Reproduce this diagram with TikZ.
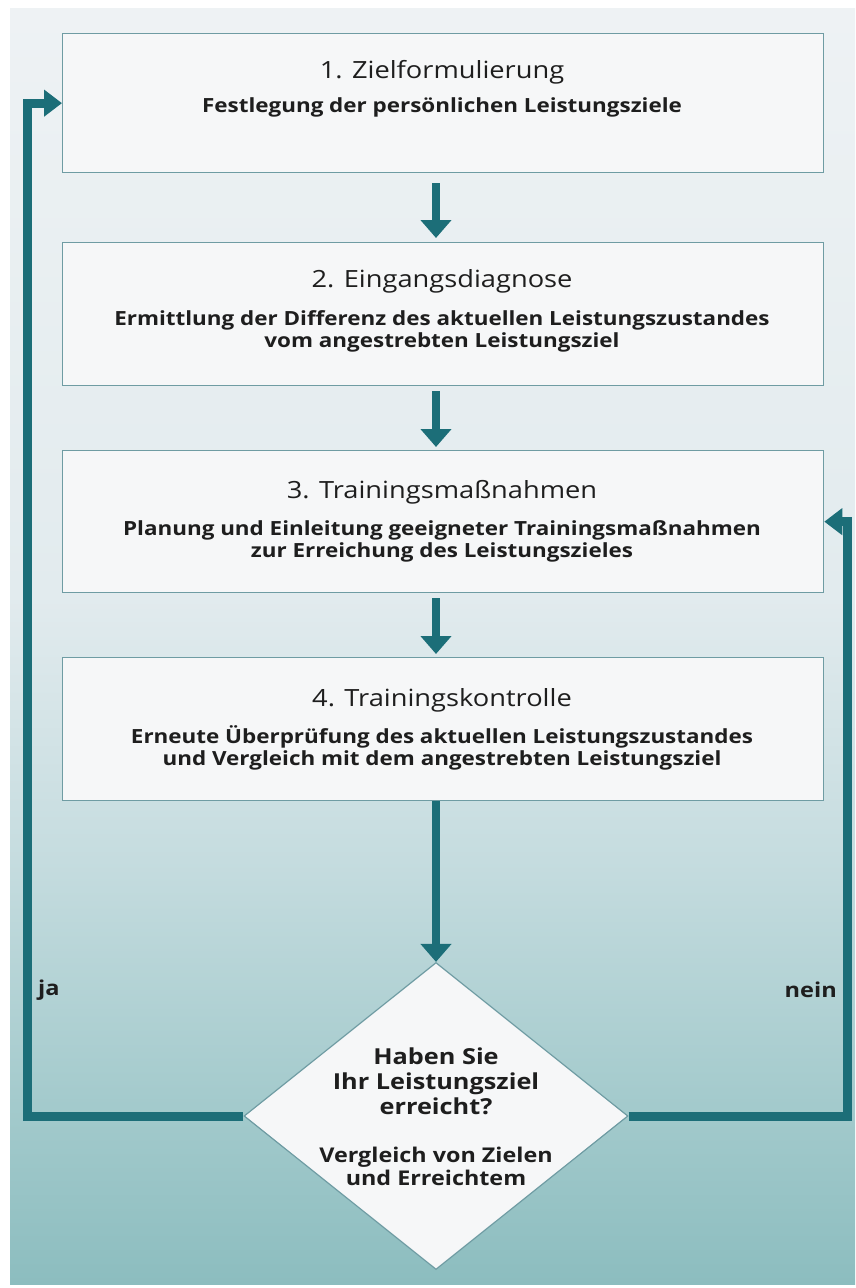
\documentclass[tikz,border=0pt]{standalone}
\usepackage{fontspec}
\setmainfont{Open Sans}[FakeStretch=1.15]
\usetikzlibrary{arrows.meta,shapes.geometric}
\definecolor{bgA}{HTML}{8CBDBF}
\definecolor{bgB}{HTML}{A3CACC}
\definecolor{bgC}{HTML}{C5DCDF}
\definecolor{bgD}{HTML}{E2EBEE}
\definecolor{bgE}{HTML}{EEF2F4}
\definecolor{arrowc}{HTML}{1C6E78}
\definecolor{boxc}{HTML}{6F9CA3}
\definecolor{boxf}{HTML}{F6F7F8}
\definecolor{textc}{HTML}{1E1E1E}
\pgfdeclareverticalshading{bgshade}{100bp}{color(0bp)=(bgA); color(25bp)=(bgA); color(32bp)=(bgB); color(41.6bp)=(bgC); color(52bp)=(bgD); color(75bp)=(bgE); color(100bp)=(bgE)}
\begin{document}
\begin{tikzpicture}[x=1pt,y=-1pt,
  box/.style={draw=boxc, line width=1.3pt, fill=boxf, minimum width=761pt, inner sep=0pt, anchor=north west},
  ttl/.style={text=textc, font=\fontsize{23.7pt}{27pt}\selectfont, inner sep=0pt},
  bod/.style={text=textc, font=\fontsize{19.5pt}{22pt}\selectfont\bfseries, align=center, inner sep=0pt},
  lbl/.style={text=textc, font=\fontsize{20.5pt}{24pt}\selectfont\bfseries, inner sep=0pt},
  arr/.style={draw=arrowc, line width=8pt, line join=miter, -{Triangle[width=30pt,length=18pt]}},
  loop/.style={draw=arrowc, line width=9pt, line join=miter, -{Triangle[width=26pt,length=18pt]}}]
\useasboundingbox (0,0) rectangle (855,1288);
\fill[white] (0,0) rectangle (855,1288);
\shade[shading=bgshade] (10,8) rectangle (855,1284);
% boxes
\node[box, minimum height=139pt] (b1) at (62,33) {};
\node[box, minimum height=143pt] (b2) at (62,242) {};
\node[box, minimum height=142pt] (b3) at (62,450) {};
\node[box, minimum height=143pt] (b4) at (62,657) {};
% texts
\node[ttl] (t1) at (442,72) {1. Zielformulierung};
\node[bod] (s1) at (442,107) {Festlegung der persönlichen Leistungsziele};
\node[ttl] (t2) at (442,281) {2. Eingangsdiagnose};
\node[bod] (s2) at (442,331) {Ermittlung der Differenz des aktuellen Leistungszustandes\\vom angestrebten Leistungsziel};
\node[ttl] (t3) at (442,492) {3. Trainingsmaßnahmen};
\node[bod] (s3) at (442,541) {Planung und Einleitung geeigneter Trainingsmaßnahmen\\zur Erreichung des Leistungszieles};
\node[ttl] (t4) at (442,700) {4. Trainingskontrolle};
\node[bod] (s4) at (442,748) {Erneute Überprüfung des aktuellen Leistungszustandes\\und Vergleich mit dem angestrebten Leistungsziel};
% diamond
\node[diamond, draw=boxc, line width=1.2pt, fill=boxf, minimum width=384pt, minimum height=307pt, inner sep=0pt, aspect=1.25] (d) at (436,1116) {};
\node[bod, font=\fontsize{22pt}{25pt}\selectfont\bfseries] (dq) at (436,1081) {Haben Sie\\Ihr Leistungsziel\\erreicht?};
\node[bod, font=\fontsize{20.3pt}{23pt}\selectfont\bfseries] (dv) at (436,1166) {Vergleich von Zielen\\und Erreichtem};
% labels
\node[lbl, anchor=west] (ja) at (38,990) {ja};
\node[lbl, anchor=east] (nein) at (837,990) {nein};
% arrows
\draw[arr] ([yshift=-10pt]b1.south -| d.north) -- ([yshift=4pt]b2.north -| d.north);
\draw[arr] ([yshift=-5pt]b2.south -| d.north) -- ([yshift=3pt]b3.north -| d.north);
\draw[arr] ([yshift=-5pt]b3.south -| d.north) -- ([yshift=3pt]b4.north -| d.north);
\draw[arr] (b4.south -| d.north) -- (d.north);
\coordinate (lx) at (27,0);
\coordinate (rx) at (847,0);
\draw[loop] (d.west) -- (d.west -| lx) -- (b1.west -| lx) -- (b1.west);
\draw[loop] (d.east) -- (d.east -| rx) -- (b3.east -| rx) -- (b3.east);
\end{tikzpicture}
\end{document}
